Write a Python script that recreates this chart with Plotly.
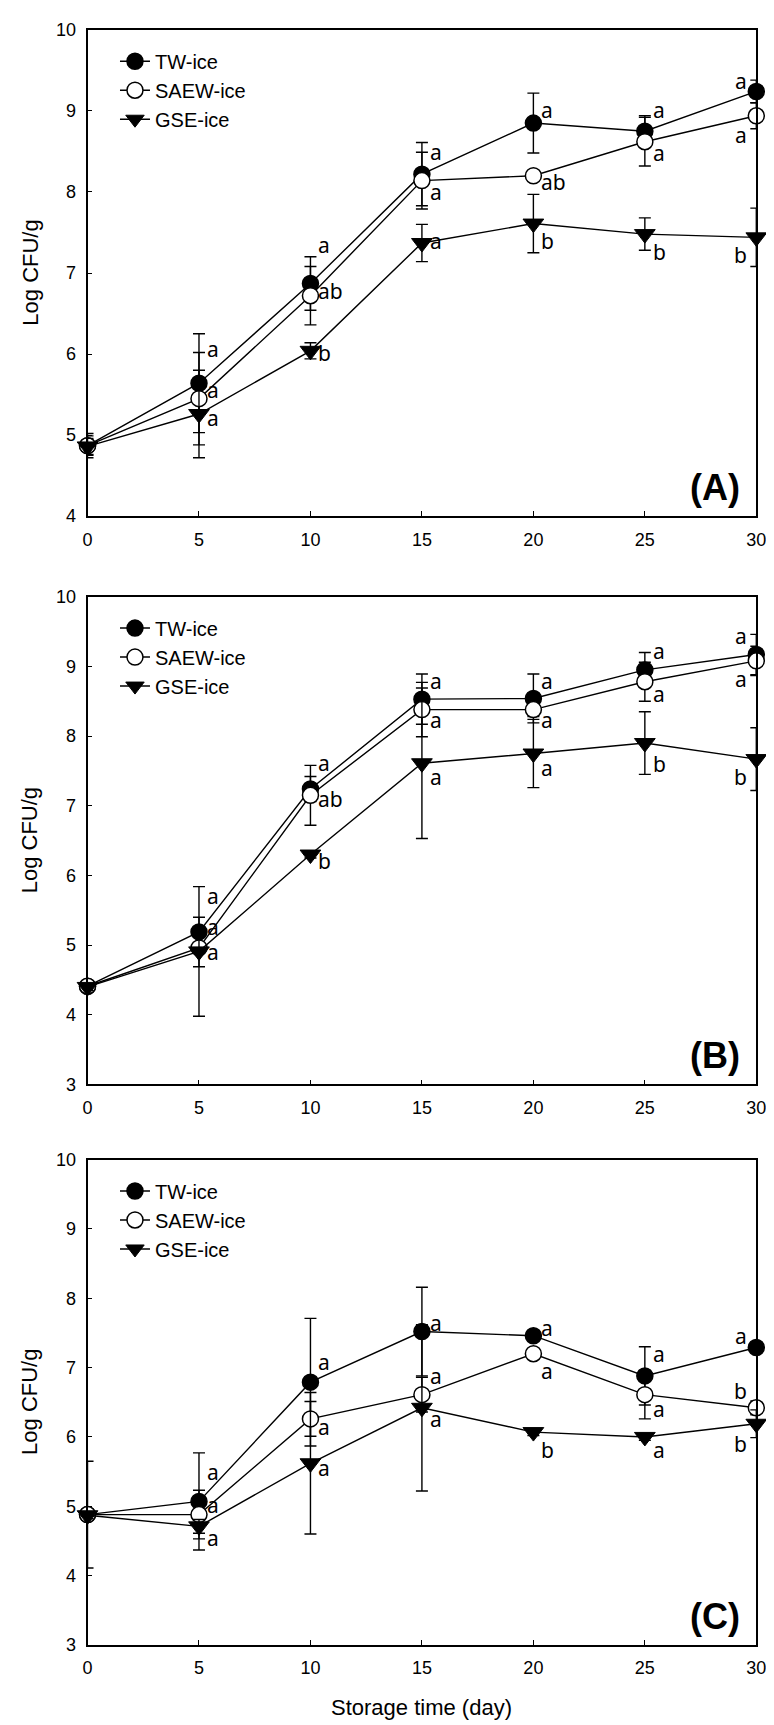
import plotly.graph_objects as go

# ---------------- data ----------------
days = [0, 5, 10, 15, 20, 25, 30]
series_names = ["TW-ice", "SAEW-ice", "GSE-ice"]

# Panel A
a_tw = [4.87, 5.64, 6.87, 8.22, 8.85, 8.75, 9.24]
a_tw_err = [0.15, 0.61, 0.33, 0.39, 0.37, 0.19, 0.14]
a_saew = [4.87, 5.45, 6.72, 8.14, 8.20, 8.62, 8.94]
a_saew_err = [0.12, 0.57, 0.36, 0.35, 0.05, 0.30, 0.16]
a_gse = [4.86, 5.26, 6.04, 7.37, 7.61, 7.48, 7.44]
a_gse_err = [0.10, 0.54, 0.10, 0.23, 0.36, 0.20, 0.36]
a_tw_let = ["", "a", "a", "a", "a", "a", "a"]
a_saew_let = ["", "a", "ab", "a", "ab", "a", "a"]
a_gse_let = ["", "a", "b", "a", "b", "b", "b"]

# Panel B
b_tw = [4.41, 5.19, 7.24, 8.53, 8.54, 8.95, 9.17]
b_tw_err = [0.05, 0.21, 0.18, 0.36, 0.35, 0.25, 0.29]
b_saew = [4.41, 4.96, 7.15, 8.38, 8.38, 8.78, 9.08]
b_saew_err = [0.05, 0.27, 0.43, 0.39, 0.10, 0.28, 0.21]
b_gse = [4.40, 4.91, 6.30, 7.61, 7.75, 7.90, 7.67]
b_gse_err = [0.05, 0.93, 0.05, 1.08, 0.49, 0.45, 0.45]
b_tw_let = ["", "a", "a", "a", "a", "a", "a"]
b_saew_let = ["", "a", "ab", "a", "a", "a", "a"]
b_gse_let = ["", "a", "b", "a", "a", "b", "b"]

# Panel C
c_tw = [4.88, 5.07, 6.79, 7.52, 7.46, 6.88, 7.29]
c_tw_err = [0.77, 0.70, 0.92, 0.64, 0.05, 0.42, 0.05]
c_saew = [4.88, 4.88, 6.26, 6.61, 7.20, 6.61, 6.42]
c_saew_err = [0.05, 0.35, 0.25, 0.25, 0.05, 0.35, 0.10]
c_gse = [4.87, 4.71, 5.62, 6.42, 6.07, 6.00, 6.19]
c_gse_err = [0.05, 0.10, 1.02, 1.20, 0.05, 0.05, 0.20]
c_tw_let = ["", "a", "a", "a", "a", "a", "a"]
c_saew_let = ["", "a", "a", "a", "a", "a", "b"]
c_gse_let = ["", "a", "a", "a", "b", "a", "b"]

panel_tags = ["(A)", "(B)", "(C)"]
y_ranges = [[4, 10], [3, 10], [3, 10]]
x_title = "Storage time (day)"
y_title = "Log CFU/g"

# ---------------- label pixel offsets (layout only) ----------------
a_shift = [[0, 34, 39, 22, 13, 21, 10], [0, 9, 5, -11, -6, -11, -19], [0, -4, -2, 2, -17, -18, -18]]
b_shift = [[0, 36, 26, 18, 17, 19, 19], [0, 21, -4, -10, -10, -12, -18], [0, -1, -6, -14, -14, -21, -18]]
c_shift = [[0, 29, 20, 9, 8, 22, 11], [0, 10, -8, 19, -17, -14, 17], [0, -12, -5, -11, -18, -13, -20]]

panels = [
    ([a_tw, a_saew, a_gse], [a_tw_err, a_saew_err, a_gse_err], [a_tw_let, a_saew_let, a_gse_let], a_shift),
    ([b_tw, b_saew, b_gse], [b_tw_err, b_saew_err, b_gse_err], [b_tw_let, b_saew_let, b_gse_let], b_shift),
    ([c_tw, c_saew, c_gse], [c_tw_err, c_saew_err, c_gse_err], [c_tw_let, c_saew_let, c_gse_let], c_shift),
]

# ---------------- layout geometry ----------------
W, H = 774, 1725
FONT = "Liberation Sans, Arial, sans-serif"
LETTER_FONT = "Noto Sans, DejaVu Sans, sans-serif"
x_left, x_right = 76, 758
panel_px = [(12, 504), (585.5, 1079), (1155, 1646)]  # top, bottom in px

styles = [
    dict(symbol="circle", size=16, color="black", line=dict(color="black", width=1.5)),
    dict(symbol="circle", size=16, color="white", line=dict(color="black", width=1.5)),
    dict(symbol="triangle-down", size=18, color="black", line=dict(color="black", width=1)),
]

fig = go.Figure()
annotations = []
for p, (vals, errs, lets, shifts) in enumerate(panels):
    xa = "x" if p == 0 else f"x{p+1}"
    ya = "y" if p == 0 else f"y{p+1}"
    leg = "legend" if p == 0 else f"legend{p+1}"
    for s in range(3):
        fig.add_trace(go.Scatter(
            x=days, y=vals[s], mode="lines+markers", name=series_names[s],
            xaxis=xa, yaxis=ya, legend=leg, cliponaxis=False,
            line=dict(color="black", width=1.4),
            marker=styles[s],
            error_y=dict(type="data", array=errs[s], visible=True, color="black",
                         thickness=1.4, width=6),
        ))
        for i, d in enumerate(days):
            if not lets[s][i]:
                continue
            right = d == days[-1]
            annotations.append(dict(
                x=d, y=vals[s][i], xref=xa, yref=ya, text=lets[s][i], showarrow=False,
                xanchor="right" if right else "left", yanchor="middle",
                xshift=-8 if right else 7, yshift=shifts[s][i], borderpad=0,
                font=dict(family=LETTER_FONT, size=21, color="black"),
            ))
    top, bot = panel_px[p]
    # y-axis title
    annotations.append(dict(
        x=17 / W, y=0.5, xref="paper", yref=f"{ya} domain", text=y_title, textangle=-90,
        showarrow=False, xanchor="center", yanchor="middle",
        font=dict(family=FONT, size=22, color="black"),
    ))
    # panel tag
    annotations.append(dict(
        x=716 / W, y=1 - (bot - 29) / H, xref="paper", yref="paper", text=f"<b>{panel_tags[p]}</b>",
        showarrow=False, xanchor="center", yanchor="middle",
        font=dict(family=FONT, size=36, color="black"),
    ))

annotations.append(dict(
    x=(x_left + x_right) / 2 / W, y=1 - 1709 / H, xref="paper", yref="paper", text=x_title,
    showarrow=False, xanchor="center", yanchor="middle",
    font=dict(family=FONT, size=22, color="black"),
))

axis_common = dict(showline=True, linecolor="black", linewidth=1.6, mirror=True,
                   ticks="inside", ticklen=5, tickwidth=1.3, tickcolor="black",
                   showgrid=False, zeroline=False,
                   tickfont=dict(family=FONT, size=18, color="black"))

layout = dict(width=W, height=H, margin=dict(l=0, r=0, t=0, b=0),
              plot_bgcolor="white", paper_bgcolor="white", showlegend=True,
              annotations=annotations)

for p in range(3):
    top, bot = panel_px[p]
    xk = "xaxis" if p == 0 else f"xaxis{p+1}"
    yk = "yaxis" if p == 0 else f"yaxis{p+1}"
    ya = "y" if p == 0 else f"y{p+1}"
    xa = "x" if p == 0 else f"x{p+1}"
    layout[xk] = dict(axis_common, domain=[x_left / W, x_right / W], range=[0, 30],
                      tickvals=days, anchor=ya, ticklabelstandoff=6)
    layout[yk] = dict(axis_common, domain=[1 - bot / H, 1 - top / H], range=y_ranges[p],
                      dtick=1, anchor=xa, ticklabelstandoff=6)
    lk = "legend" if p == 0 else f"legend{p+1}"
    layout[lk] = dict(x=104 / W, y=1 - (top + 12) / H, xanchor="left", yanchor="top",
                      bgcolor="rgba(0,0,0,0)", font=dict(family=FONT, size=20, color="black"),
                      tracegroupgap=0, itemwidth=30)

fig.update_layout(**layout)
fig.write_html("out.html")
